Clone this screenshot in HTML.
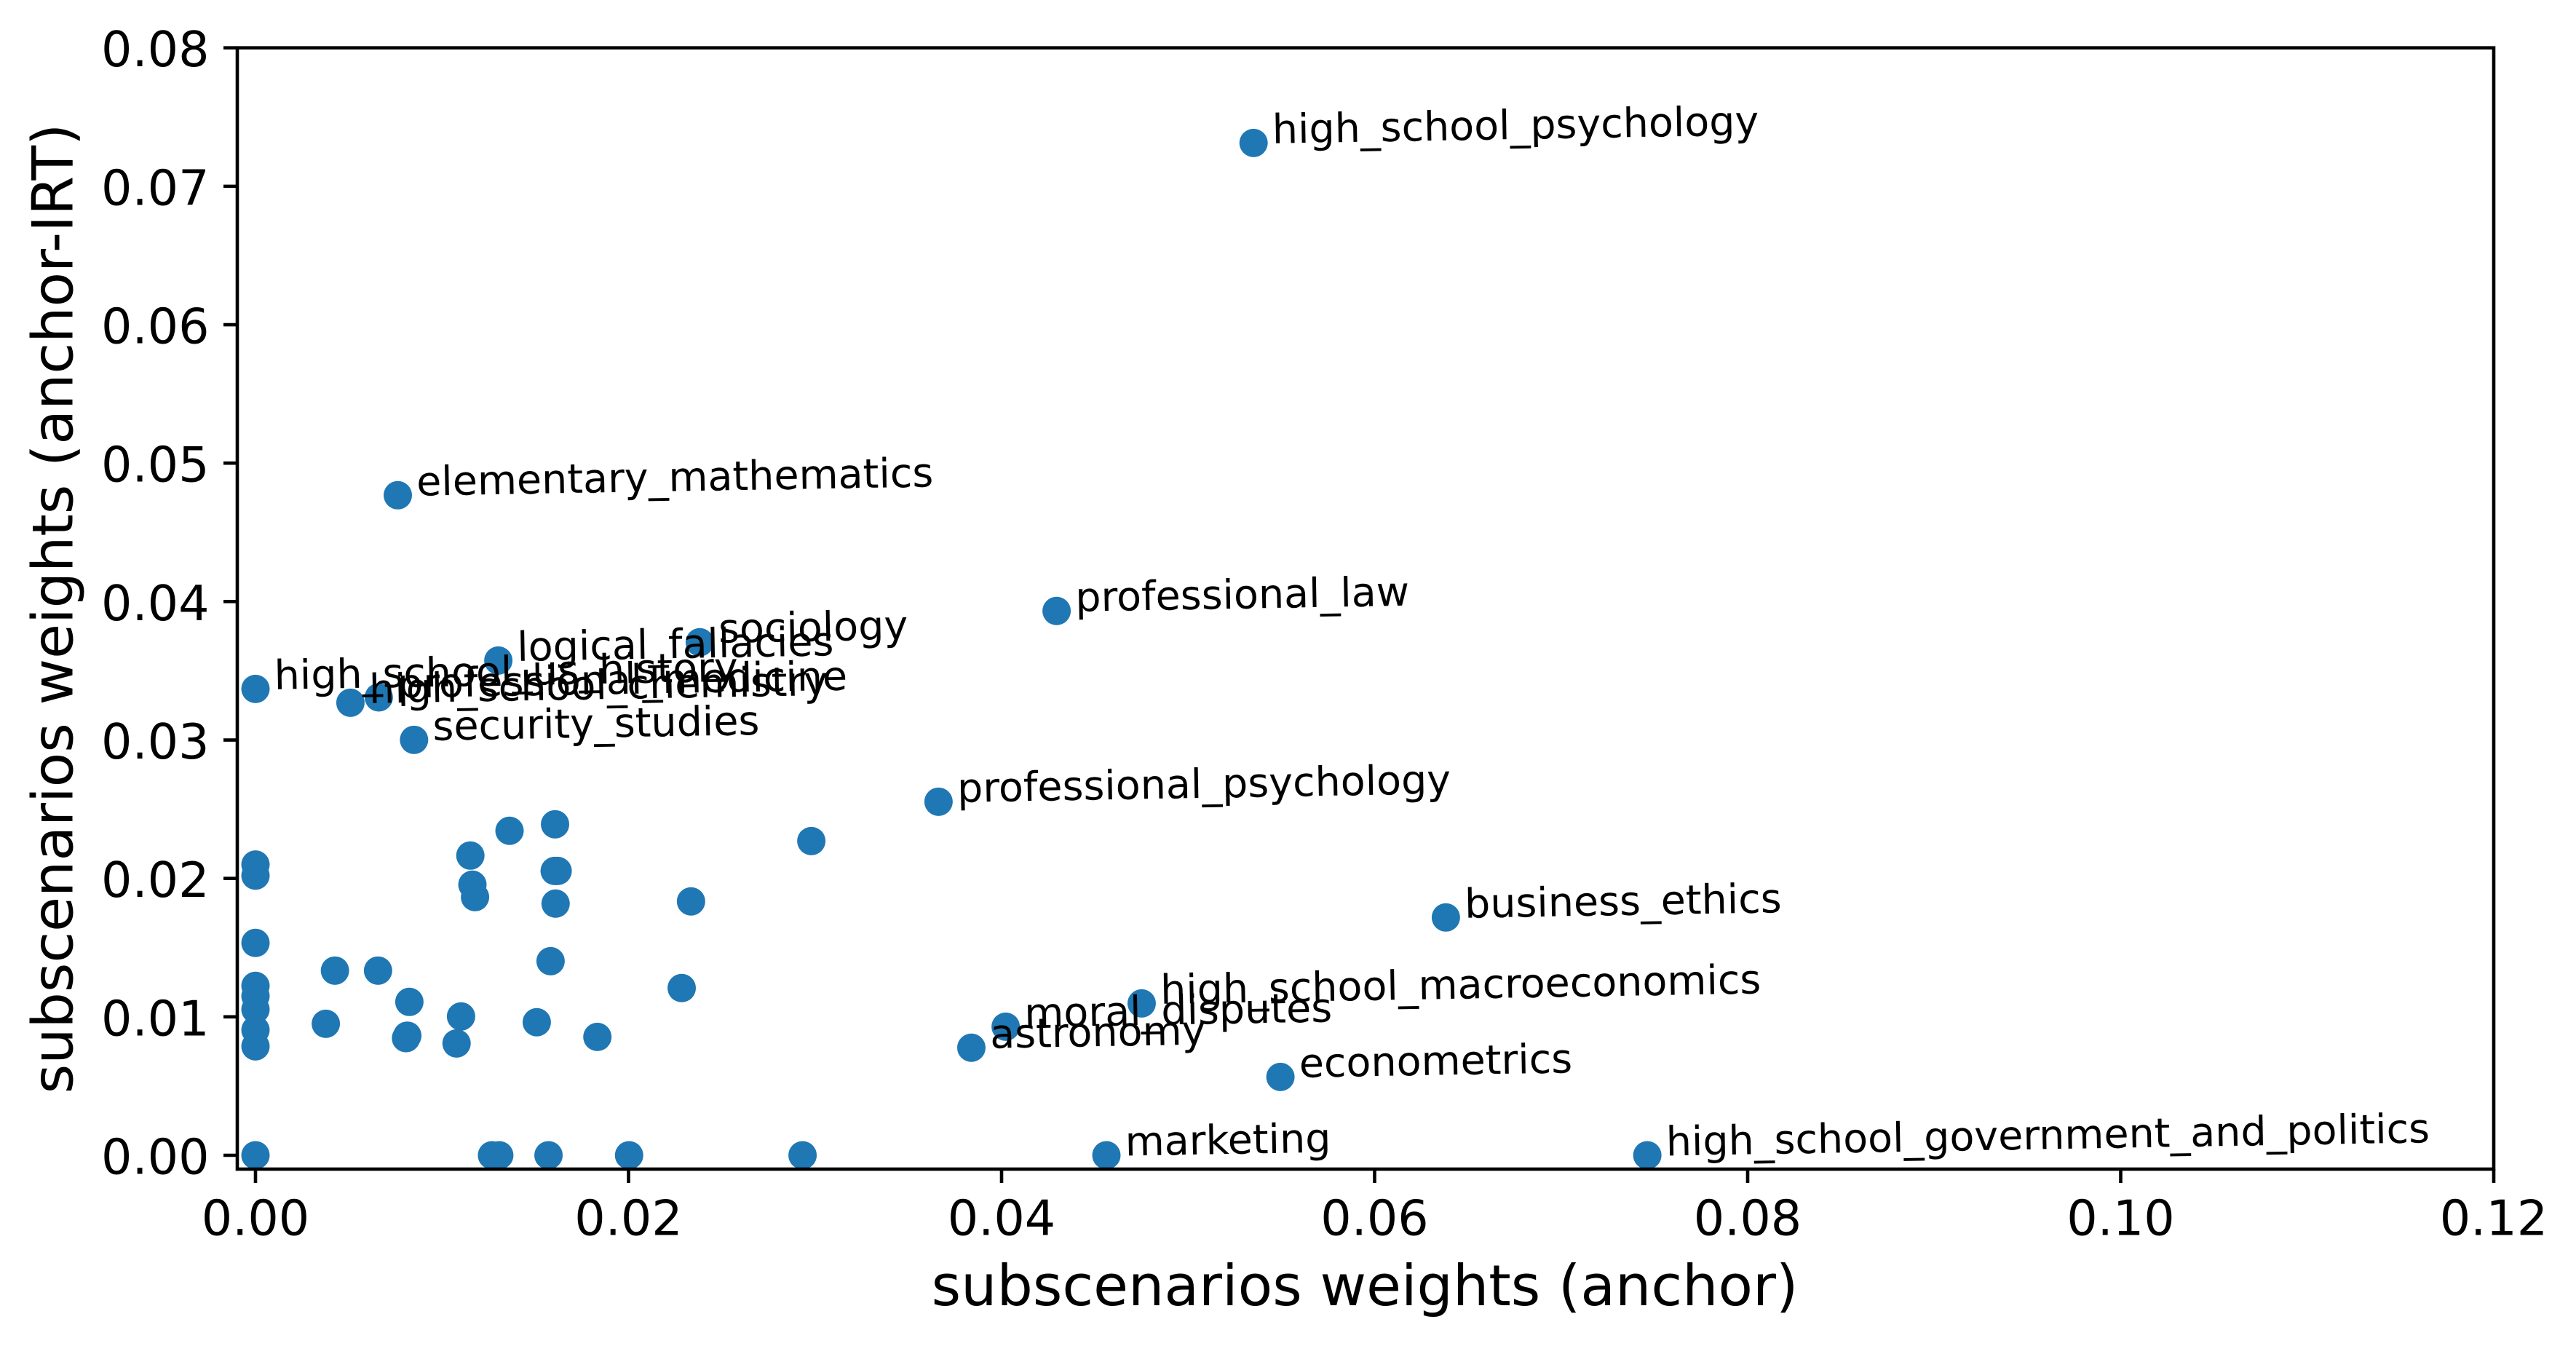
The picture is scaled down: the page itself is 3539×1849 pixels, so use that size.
<!DOCTYPE html>
<html lang="en">
<head>
<meta charset="utf-8">
<title>Subscenario weights scatter</title>
<style>
html,body{margin:0;padding:0;background:#fff;}
svg{display:block;}
text{font-family:"DejaVu Sans",sans-serif;fill:#000;}
</style>
</head>
<body>
<svg id="chart" xmlns="http://www.w3.org/2000/svg" width="3539" height="1849" viewBox="0 0 3539 1849">
<defs><clipPath id="plot-clip"><rect x="326" y="65.7" width="3100" height="1540.3"></rect></clipPath></defs>
<rect x="0" y="0" width="3539" height="1849" fill="#ffffff"></rect>
<text x="1875" y="1793" font-size="77.8" text-anchor="middle">subscenarios weights (anchor)</text>
<text x="99.5" y="836" font-size="77.8" text-anchor="middle" transform="rotate(-90 99.5 836)">subscenarios weights (anchor-IRT)</text>
</svg>
<script>
const xTickValues = [0, 0.02, 0.04, 0.06, 0.08, 0.10, 0.12];
const yTickValues = [0, 0.01, 0.02, 0.03, 0.04, 0.05, 0.06, 0.07, 0.08];
const xTickLabels = ["0.00", "0.02", "0.04", "0.06", "0.08", "0.10", "0.12"];
const yTickLabels = ["0.00", "0.01", "0.02", "0.03", "0.04", "0.05", "0.06", "0.07", "0.08"];

const labeledNames = ["high_school_psychology", "elementary_mathematics", "professional_law", "sociology", "logical_fallacies", "high_school_us_history", "professional_medicine", "high_school_chemistry", "security_studies", "professional_psychology", "business_ethics", "high_school_macroeconomics", "moral_disputes", "astronomy", "econometrics", "marketing", "high_school_government_and_politics"];
const labeledX = [0.05351, 0.00763, 0.04295, 0.02382, 0.01302, 0, 0.00661, 0.00509, 0.0085, 0.03662, 0.06382, 0.04751, 0.04022, 0.03838, 0.05495, 0.04562, 0.07462];
const labeledY = [0.07313, 0.04768, 0.03932, 0.03706, 0.03574, 0.03369, 0.03308, 0.03269, 0.03001, 0.02554, 0.01718, 0.01097, 0.00929, 0.00777, 0.00566, 0, 0];

const otherX = [0, 0, 0, 0, 0, 0, 0, 0, 0, 0.00426, 0.00657, 0.00825, 0.00377, 0.00814, 0.00807, 0.01102, 0.01078, 0.01508, 0.01833, 0.01582, 0.02285, 0.02335, 0.01609, 0.01604, 0.0162, 0.01152, 0.01163, 0.01177, 0.01362, 0.01606, 0.0298, 0.01268, 0.01307, 0.01571, 0.02003, 0.02933];
const otherY = [0.021, 0.0202, 0.01534, 0.01224, 0.0115, 0.01054, 0.00905, 0.00787, 0, 0.01334, 0.01334, 0.01108, 0.0095, 0.00864, 0.00846, 0.01003, 0.00808, 0.00961, 0.00855, 0.01402, 0.01208, 0.01834, 0.01818, 0.02054, 0.02054, 0.02165, 0.01955, 0.01865, 0.02344, 0.02391, 0.0227, 0, 0, 0, 0, 0];

const NS = "http://www.w3.org/2000/svg";
const svg = document.getElementById("chart");
const plot = { left: 326, right: 3426, top: 65.7, bottom: 1606 };
const xScale = v => 351 + v * (3426 - 351) / 0.12;
const yScale = v => 1587 - v * (1587 - 65.7) / 0.08;

function make(tag, attrs, parent) {
  const el = document.createElementNS(NS, tag);
  for (const k in attrs) el.setAttribute(k, attrs[k]);
  (parent || svg).appendChild(el);
  return el;
}

const pointsGroup = make("g", { "clip-path": "url(#plot-clip)", fill: "#1f77b4" });


otherX.forEach((x, i) => {
  const dot = make("circle", { cx: xScale(x), cy: yScale(otherY[i]), r: 19.5 }, pointsGroup);
  
  
});
labeledX.forEach((x, i) => {
  const dot = make("circle", { cx: xScale(x), cy: yScale(labeledY[i]), r: 19.5 }, pointsGroup);
  
  
});

const frame = make("rect", { x: plot.left, y: plot.top, width: plot.right - plot.left, height: plot.bottom - plot.top, fill: "none", stroke: "#000", "stroke-width": 4.6 });



xTickValues.forEach((v, i) => {
  const px = xScale(v);
  const tick = make("line", { x1: px, x2: px, y1: plot.bottom, y2: 1625, stroke: "#000", "stroke-width": 4.6 });
  
  
  const label = make("text", { x: px, y: 1696.7, "font-size": 66.7, "text-anchor": "middle" });
  
  
  label.textContent = xTickLabels[i];
});

yTickValues.forEach((v, i) => {
  const py = yScale(v);
  const tick = make("line", { x1: 307, x2: plot.left, y1: py, y2: py, stroke: "#000", "stroke-width": 4.6 });
  
  
  const label = make("text", { x: 287.5, y: py + 25.5, "font-size": 66.7, "text-anchor": "end" });
  
  
  label.textContent = yTickLabels[i];
});

labeledNames.forEach((name, i) => {
  const tx = xScale(labeledX[i]) + 26;
  const ty = yScale(labeledY[i]) + 0.5;
  const label = make("text", { x: tx, y: ty, "font-size": 55.5, transform: "rotate(-1 " + tx + " " + ty + ")" });
  
  
  label.textContent = name;
});
</script>
</body>
</html>
